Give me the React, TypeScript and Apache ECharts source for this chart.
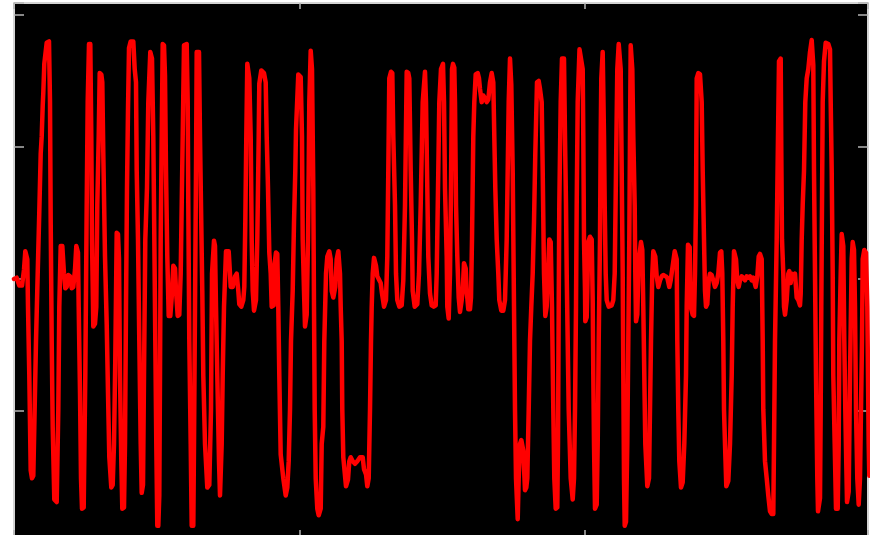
import React, { useEffect, useRef } from "react";
import * as echarts from "echarts";

// Signal samples: [time, value]
const signalPart1: [number, number][] = [
  [0,0],[2.7,0.01],[5.3,-0.05],[8,-0.05],[10,0.07],[11.3,0.21],[13.3,0.15],[14,-0.21],[15.3,-0.73],[16.7,-1.45],[18,-1.51],[19.3,-1.49],[20.3,-1.12],[22,-0.47],[23.7,0.04],[25.3,0.51],[26.7,0.95],[27.7,1.08],[28.7,1.31],[29.3,1.41],[30.3,1.63],[32.7,1.79],[35,1.8],[36,1.34],[36.7,0.43],[37.7,-0.47],[38.7,-1.12],[40.3,-1.67],[42.7,-1.69],[44.3,-0.99],[45.3,-0.21],[46.7,0.25],[48.3,0.25],[50,0.04],[51.3,-0.07],[52.7,-0.06],[54.3,0.03],[56,0.02],[57.7,-0.07],[59.3,-0.06],[61,0.07],[62.3,0.25],[64,0.2],[64.7,-0.21],[66,-0.86],[67,-1.51],[68,-1.74],[69.7,-1.73],[71.3,-0.73],[72.7,0.56],[73.7,1.34],[75,1.78],[76.3,1.78],[77.3,1.08],[78,0.3],[79.3,-0.36],[81,-0.34],[82.3,-0.21],[83.3,0.56],[84.7,1.08],[85.7,1.56],[87.3,1.55],[88.3,1.49],[89.3,0.95],[91,0.17],[92.7,-0.34],[94,-0.86],[95.3,-1.35],[97.3,-1.58],[98.7,-1.56],[100,-1.25],[101.3,-0.6],[102.7,0.35],[104,0.34],[105,0.15],[106,-0.73],[107.3,-1.38],[108.3,-1.74],[110,-1.73],[111,-1.25],[112,-0.21],[113,0.69],[114,1.28],[115,1.75],[116.7,1.8],[119.3,1.8],[120.7,1.59],[122,1.49],[122.7,0.82],[124,0.3],[125.3,-0.47],[126.7,-1.25],[127.7,-1.62],[129,-1.56],[130,-0.73],[131.3,0.3],[133,0.69],[134.3,1.34],[136.3,1.72],[138,1.67],[139.3,1.08],[140,0.56],[141.3,-0.47],[142.3,-1.25],[143.3,-1.87],[144.3,-1.87],[145.3,-1.64],[146,-0.73],[146.7,0.3],[147.7,1.08],[148.7,1.78],[150,1.77],[151,1.54],[152,0.82],[153.3,0.17],[154.7,-0.28],[156.3,-0.28],[157.7,-0.14],[159.3,0.1],[161,0.08],[162,-0.09],[163.7,-0.28],[165.3,-0.27],[166.7,0.04],[167.7,0.56],[168.7,1.08],[170,1.77],[172.7,1.78],[173.7,1.34],[174.3,0.56],[175.3,-0.47],[176.7,-1.25],[177.7,-1.87],[179.3,-1.87],[180,-1.25],[181,-0.21],[182,0.82],[182.7,1.72],[185,1.72],[186,1.08],[187,0.56],[188.3,-0.09],[189.3,-0.73],[191,-1.25],[193.3,-1.58],[195.3,-1.56],[197,-0.99],[198,0.04],[200,0.29],[201,0.25],[202,-0.21],[203.3,-0.73],[205,-1.38],[206,-1.64],[207.7,-1.25],[208.7,-0.73],[210,-0.21],[212,0.21],[214.7,0.21],[216,0.04],[216.7,-0.06],[218.7,-0.06],[221,0.02],[222.7,0.04],[224.3,-0.09],[225.3,-0.19],[227.3,-0.21],[229.3,-0.16],[230.3,-0.06],[231.3,0.43],[232.3,1.08],[233.3,1.63],[235.3,1.52],[236.7,1.08],[237.7,0.3],[238.7,-0.09],[240,-0.24],[242,-0.16],[243.3,0.3],[244.7,1.08],[245.3,1.48],[247.3,1.58],[250,1.56],[251.7,1.49],[252.7,1.08],[254,0.69],[255.3,0.2],[256.7,0.04],[257.7,-0.21],[259.7,-0.2],[260.3,0.1],[262,0.2],[263.3,0.19],[264.3,-0.21],[265.3,-0.73],[266.7,-1.33],[269.3,-1.51],[271.7,-1.64],[273.3,-1.58],[274.7,-1.38],[276,-0.99],[277,-0.47],[278.7,-0.09],[280,0.43],[281.3,0.82],[282,1.13]
];

const signalPart2: [number, number][] = [
  [284.3,1.55],[286.7,1.53],[288,1.08],[288.7,0.3],[290,-0.09],[291,-0.36],[292.7,-0.27],[294,0.3],[294.7,0.82],[295.3,1.34],[296.7,1.73],[298,1.59],[299.3,0.69],[300,-0.21],[300.7,-0.99],[301.7,-1.51],[303.3,-1.74],[304.7,-1.79],[306.7,-1.74],[307.7,-1.25],[309.3,-1.12],[310.3,-0.47],[312,0.04],[313.3,0.17],[315.3,0.21],[316.7,0.15],[317.7,-0.09],[319.3,-0.14],[321.3,-0.06],[322.7,0.15],[324.3,0.21],[326,0.04],[326.7,-0.21],[327.7,-0.47],[328.3,-0.99],[329.3,-1.35],[332,-1.57],[334,-1.52],[335.3,-1.38],[336.7,-1.35],[338.7,-1.38],[341,-1.4],[343.3,-1.38],[346,-1.35],[348.7,-1.35],[350,-1.44],[352,-1.48],[353.3,-1.57],[354.7,-1.51],[356,-0.99],[357,-0.47],[357.7,-0.21],[358.7,0.04],[360,0.16],[362,0.1],[363.3,0.02],[365.3,-0.01],[366.7,-0.03],[368,-0.11],[370,-0.21],[372,-0.16],[373.3,0.17],[374.3,0.82],[375.3,1.52],[377,1.57],[378.3,1.56],[379.3,1.08],[381,0.56],[382,0.04],[383.3,-0.16],[385.3,-0.21],[387.7,-0.2],[389.3,-0.01],[391,0.56],[392.7,1.57],[394.3,1.56],[395.3,1.52],[396.7,0.82],[398,0.3],[398.7,-0.09],[400.7,-0.21],[403.3,-0.19],[405,0.04],[406.7,0.56],[408.7,1.34],[411,1.57],[412,1.34],[413.3,0.69],[414.3,0.17],[416,-0.11],[417.7,-0.2],[419.7,-0.21],[421.7,-0.2],[422.7,0.04],[424.3,0.82],[425.3,1.34],[427,1.59],[429,1.63],[430,1.34],[431,0.69],[432.7,0.17],[433.3,-0.21],[434.7,-0.3],[436,0.04],[437,0.69],[438,1.59],[439,1.63],[440.3,1.6],[441,1.34],[442,0.56],[443.3,0.17],[444.7,-0.14],[446,-0.25],[447.7,-0.16],[448.7,-0.09],[450,0.12],[451.7,0.08],[452.7,-0.09],[454.3,-0.23],[456,-0.23],[457,-0.14],[458,0.3],[459.3,1.08],[460.3,1.34],[461.7,1.55],[463.7,1.56],[465,1.52],[466,1.44],[467.7,1.34],[469.3,1.39],[471,1.37],[472.7,1.34],[474.3,1.36],[476,1.49],[477.7,1.56],[479.3,1.49],[480.3,1.08],[481.3,0.69],[482.7,0.3],[484.3,0.04],[485.3,-0.16],[487.3,-0.24],[489.3,-0.24],[491,-0.16],[492.7,0.3],[493.7,0.82],[494.7,1.34],[496,1.67],[497.3,1.47],[498.7,0.82],[500,-0.21],[501,-0.99],[502,-1.51],[503.7,-1.82],[504.7,-1.51],[506,-1.25],[507.3,-1.22],[509.3,-1.3],[511,-1.6],[512.3,-1.58],[513.3,-1.51],[514.7,-0.99],[516,-0.47],[517.3,-0.21],[518.7,0.04],[520,0.43],[521.3,0.95],[523,1.49],[524.7,1.5],[526,1.44],[527.7,1.34],[528.7,0.82],[530,0.04],[531.3,-0.28],[532.7,-0.21],[534,0.04],[535.3,0.3],[536.7,0.28],[538,-0.21],[539.3,-0.99],[540.3,-1.51],[541.7,-1.74],[543.3,-1.73],[544,-1.25],[544.7,-0.21],[545.3,0.56],[546.7,1.34],[548,1.67],[550,1.67],[551,1.08],[552,0.56],[552.7,0.04],[553.7,-0.47],[554.7,-0.99],[556.7,-1.51],[558.7,-1.67],[560,-1.51],[561,-0.99],[562,-0.21],[562.7,0.56],[563.7,1.34],[565.5,1.74],[568.7,1.59]
];

const signalPart3: [number, number][] = [
  [569.3,1.08],[570,0.3],[571,-0.09],[571.3,-0.32],[572.7,-0.29],[573.3,-0.09],[574.3,0.28],[576,0.32],[577.7,0.3],[578.7,-0.16],[579.3,-0.73],[580,-1.25],[581,-1.74],[582.7,-1.71],[583.7,-1.25],[584.7,-0.47],[586,0.3],[586.7,1.08],[587.3,1.52],[588.7,1.72],[590,1.08],[590.7,0.56],[591.7,0.04],[592.7,-0.16],[594.7,-0.21],[597.7,-0.2],[599.3,-0.16],[600.7,0.04],[602,0.82],[603.3,1.59],[604.7,1.78],[606.7,1.59],[607.7,0.82],[608.7,0.04],[609.3,-0.73],[610,-1.51],[610.7,-1.87],[612,-1.84],[613.3,-1.25],[614.3,-0.47],[615.3,0.3],[616,1.08],[616.7,1.77],[618.3,1.59],[619.3,1.08],[620.7,0.56],[621.3,0.04],[622,-0.32],[623.3,-0.27],[624.3,0.04],[625.3,0.17],[627,0.28],[628.3,0.22],[629.3,-0.21],[630.3,-0.73],[631.3,-1.25],[633.3,-1.57],[635,-1.51],[636,-0.99],[637,-0.47],[638.3,0.04],[639.3,0.21],[641.3,0.17],[642.7,0.02],[644.3,-0.06],[646,-0.01],[647.7,0.02],[649.3,0.03],[651.7,0.02],[653.3,0.01],[655.3,-0.06],[656.7,-0.01],[658.7,0.1],[660.7,0.21],[662.7,0.15],[663.3,-0.47],[664.3,-0.99],[665.3,-1.38],[667,-1.58],[668.7,-1.54],[670.3,-1.25],[672,-0.73],[672.7,-0.21],[674,0.26],[675.7,0.24],[676.7,-0.21],[678.7,-0.27],[680,-0.28],[681,0.04],[682,0.56],[682.7,1.52],[684.3,1.56],[686,1.55],[687.7,1.34],[688.7,0.82],[690,0.3],[691,-0.09],[692,-0.21],[693.3,-0.19],[694.7,-0.01],[696,0.04],[697.7,0.03],[699.3,-0.01],[701,-0.06],[702.7,-0.03],[704.3,0.04],[706,0.2],[707.3,0.21],[708.3,0.04],[709.3,-0.47],[710,-0.99],[711,-1.25],[712.3,-1.57],[714.3,-1.53],[716,-1.25],[717.7,-0.73],[718.7,-0.21],[720,0.21],[722,0.15],[723.3,-0.01],[724.7,-0.06],[726,-0.01],[727.7,0.02],[729.3,0.01],[731,-0.01],[732.7,0.02],[734.3,0.01],[736,0.02],[737.7,-0.01],[739.3,0.01],[741.7,-0.06],[743.3,0.02],[744.7,0.17],[746,0.19],[747.7,0.15],[748.7,-0.47],[749.3,-0.99],[751,-1.38],[752.7,-1.51],[754.3,-1.64],[756,-1.76],[757.7,-1.78],[759.3,-1.78],[760,-1.25],[761,-0.47],[762.7,0.3],[764,1.08],[765,1.65],[766.7,1.67],[767.3,0.95],[768,0.3],[769.3,0.04],[770,-0.21],[771,-0.27],[772.7,-0.16],[774.3,0.04],[775.3,0.06],[776.7,-0.03],[777.7,0.04],[779.3,0.02],[781,0.04],[782.7,-0.14],[784.3,-0.16],[786,-0.2],[786.7,-0.11],[787.7,0.3],[788.7,0.56],[790,0.82],[791.3,1.34],[792.7,1.52],[794.3,1.59],[796,1.72],[797.7,1.81],[799.3,1.62],[800,0.82],[801,0.04],[802,-0.73],[803.3,-1.51],[804,-1.76],[806,-1.66],[806.7,-0.99],[807.3,-0.21],[808,0.56],[808.7,1.34],[810,1.65],[811.7,1.79],[814.3,1.78],[816,1.74],[816.7,1.34],[817.7,0.82],[818.7,0.04],[819.3,-0.73],[820.7,-1.25],[822,-1.74],[823.7,-1.74],[824.7,-1.25],[825.3,-0.47],[826.7,0.04],[827.7,0.34],[829.3,0.25],[830.3,-0.47],[831.3,-0.99],[833,-1.69],[834.7,-1.61],[836,-0.73],[837,-0.21],[837.7,0.15],[838.7,0.28],[840,0.22],[841,-0.21],[842,-0.99],[843.3,-1.51],[844.7,-1.71],[846,-1.51],[847,-0.99],[848,-0.47],[848.7,0.15],[850.3,0.22],[852,0.2],[853.3,-0.21],[854.7,-1.25],[855.3,-1.49]
];

const signal = [...signalPart1, ...signalPart2, ...signalPart3];

const X_MIN = 0;
const X_MAX = 854;
const X_TICK = 285.5;
const Y_MIN = -2;
const Y_MAX = 2.0909;
const Y_TICK = 1;

export default function App() {
  const ref = useRef<HTMLDivElement>(null);
  useEffect(() => {
    if (!ref.current) return;
    const chart = echarts.init(ref.current, undefined, { renderer: "svg" });
    const axisLine = { show: true, onZero: false, lineStyle: { color: "#d4d4d4", width: 2 } };
    const tickStyle = { color: "#b4b4b4", width: 1.5 };
    const xBase = {
      type: "value" as const,
      min: X_MIN,
      max: X_MAX,
      interval: X_TICK,
      axisLine,
      axisLabel: { show: false },
      splitLine: { show: false },
    };
    const yBase = {
      type: "value" as const,
      min: Y_MIN,
      max: Y_MAX,
      interval: Y_TICK,
      axisLine,
      axisLabel: { show: false },
      splitLine: { show: false },
    };
    chart.setOption({
      animation: false,
      backgroundColor: "#ffffff",
      grid: {
        left: 14,
        top: 3,
        width: 854,
        height: 540,
        outerBoundsMode: "none",
        containLabel: false,
        show: true,
        backgroundColor: "#000000",
        borderWidth: 0,
      },
      xAxis: [
        { ...xBase, position: "bottom", axisTick: { show: true, inside: true, length: 13, lineStyle: tickStyle } },
        { ...xBase, position: "top", axisTick: { show: true, inside: true, length: 6, lineStyle: tickStyle } },
      ],
      yAxis: [
        { ...yBase, position: "left", axisTick: { show: true, inside: true, length: 10, lineStyle: tickStyle } },
        { ...yBase, position: "right", axisTick: { show: true, inside: true, length: 10, lineStyle: tickStyle } },
      ],
      series: [
        {
          type: "line",
          xAxisIndex: 0,
          yAxisIndex: 0,
          data: signal,
          showSymbol: false,
          symbol: "none",
          clip: true,
          lineStyle: { color: "#ff0000", width: 4.5, cap: "round", join: "round" },
        },
      ],
    });
    return () => chart.dispose();
  }, []);
  return (
    <div
      ref={ref}
      style={{ position: "absolute", left: 0, top: 0, width: 870, height: 535, overflow: "hidden" }}
    />
  );
}
